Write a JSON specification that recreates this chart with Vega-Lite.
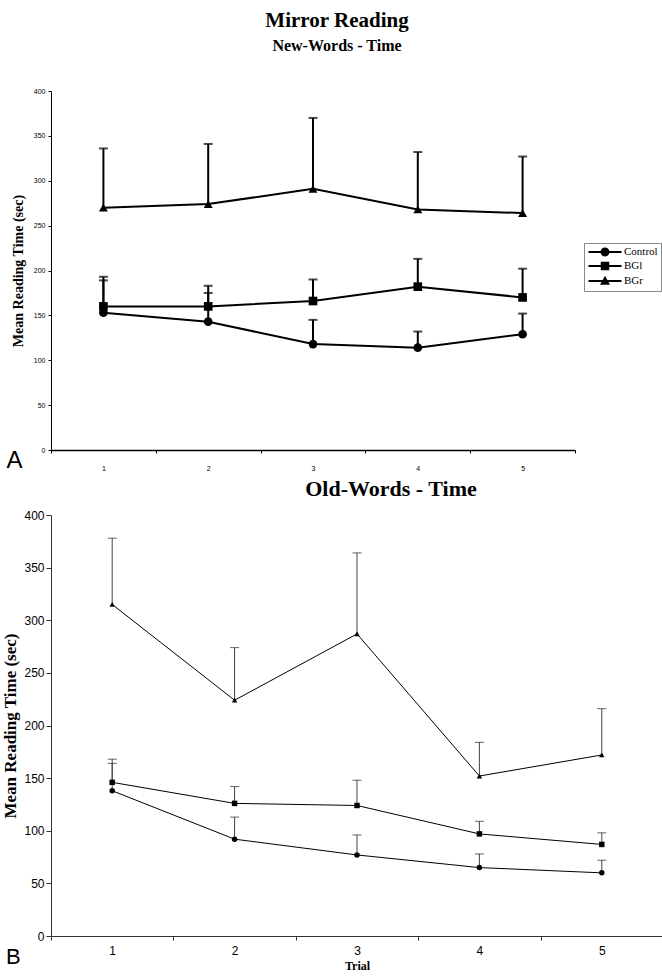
{
  "$schema": "https://vega.github.io/schema/vega-lite/v6.json",
  "background": "white",
  "padding": {"left": 1, "top": 10, "right": 0, "bottom": 0},
  "config": {"view": {"stroke": null}, "font": "Liberation Sans"},
  "datasets": {
    "newwords": [
      {"trial": "1", "group": "Control", "mean": 153, "upper": 189},
      {"trial": "2", "group": "Control", "mean": 143, "upper": 175},
      {"trial": "3", "group": "Control", "mean": 118, "upper": 145},
      {"trial": "4", "group": "Control", "mean": 114, "upper": 132},
      {"trial": "5", "group": "Control", "mean": 129, "upper": 152},
      {"trial": "1", "group": "BGl", "mean": 160, "upper": 193},
      {"trial": "2", "group": "BGl", "mean": 160, "upper": 183},
      {"trial": "3", "group": "BGl", "mean": 166, "upper": 190},
      {"trial": "4", "group": "BGl", "mean": 182, "upper": 213},
      {"trial": "5", "group": "BGl", "mean": 170, "upper": 202},
      {"trial": "1", "group": "BGr", "mean": 270, "upper": 336},
      {"trial": "2", "group": "BGr", "mean": 274, "upper": 341},
      {"trial": "3", "group": "BGr", "mean": 291, "upper": 370},
      {"trial": "4", "group": "BGr", "mean": 268, "upper": 332},
      {"trial": "5", "group": "BGr", "mean": 264, "upper": 327}
    ],
    "oldwords": [
      {"trial": "1", "group": "Control", "mean": 138, "upper": 164},
      {"trial": "2", "group": "Control", "mean": 92, "upper": 113},
      {"trial": "3", "group": "Control", "mean": 77, "upper": 96},
      {"trial": "4", "group": "Control", "mean": 65, "upper": 78},
      {"trial": "5", "group": "Control", "mean": 60, "upper": 72},
      {"trial": "1", "group": "BGl", "mean": 146, "upper": 168},
      {"trial": "2", "group": "BGl", "mean": 126, "upper": 142},
      {"trial": "3", "group": "BGl", "mean": 124, "upper": 148},
      {"trial": "4", "group": "BGl", "mean": 97, "upper": 109},
      {"trial": "5", "group": "BGl", "mean": 87, "upper": 98},
      {"trial": "1", "group": "BGr", "mean": 315, "upper": 378},
      {"trial": "2", "group": "BGr", "mean": 224, "upper": 274},
      {"trial": "3", "group": "BGr", "mean": 287, "upper": 364},
      {"trial": "4", "group": "BGr", "mean": 152, "upper": 184},
      {"trial": "5", "group": "BGr", "mean": 172, "upper": 216}
    ]
  },
  "title": {"text": "B", "orient": "bottom", "anchor": "start", "font": "Liberation Sans", "fontSize": 22, "fontWeight": "normal", "color": "black", "offset": -24, "dx": 4},
  "resolve": {"scale": {"shape": "independent", "x": "independent", "y": "independent"}, "legend": {"shape": "independent"}},
  "spacing": 6,
  "vconcat": [
    {
      "width": 524,
      "height": 359,
      "data": {"name": "newwords"},
      "title": {"text": "Mirror Reading", "subtitle": "New-Words - Time", "font": "Liberation Serif", "fontSize": 21, "fontWeight": "bold", "color": "black", "subtitleFont": "Liberation Serif", "subtitleFontSize": 16, "subtitleFontWeight": "bold", "subtitleColor": "black", "subtitlePadding": 7, "anchor": "middle", "dx": 24, "offset": 33},
      "encoding": {
        "x": {"field": "trial", "type": "ordinal", "scale": {"paddingInner": 0, "paddingOuter": 0},
          "axis": {"title": "A", "titleFont": "Liberation Sans", "titleFontSize": 24, "titleFontWeight": "normal", "titleColor": "black", "titleX": -45, "titleY": 17, "titleAlign": "left", "titleBaseline": "alphabetic", "labelAngle": 0, "labelFontSize": 7, "labelColor": "black", "labelPadding": 11, "tickBand": "extent", "tickSize": 3, "tickColor": "black", "domainColor": "black", "domainWidth": 1.5, "grid": false}}
      },
      "layer": [
        {"mark": {"type": "rule", "color": "black", "strokeWidth": 2},
          "encoding": {"y": {"field": "mean", "type": "quantitative", "scale": {"domain": [0, 400]},
            "axis": {"title": "Mean Reading Time (sec)", "titleFont": "Liberation Serif", "titleFontSize": 14, "titleFontWeight": "bold", "titleColor": "black", "titlePadding": 8, "values": [0, 50, 100, 150, 200, 250, 300, 350, 400], "labelFontSize": 7, "labelColor": "black", "tickSize": 3, "tickColor": "black", "labelPadding": 3, "domainColor": "black", "grid": false}},
            "y2": {"field": "upper"}}},
        {"mark": {"type": "tick", "orient": "horizontal", "size": 9, "thickness": 2, "color": "black"},
          "encoding": {"y": {"field": "upper", "type": "quantitative"}}},
        {"mark": {"type": "line", "color": "black", "strokeWidth": 2},
          "encoding": {"y": {"field": "mean", "type": "quantitative"}, "detail": {"field": "group"}}},
        {"transform": [{"filter": "datum.group === 'Control'"}],
          "mark": {"type": "point", "shape": "circle", "filled": true, "color": "black", "size": 75, "opacity": 1},
          "encoding": {"y": {"field": "mean", "type": "quantitative"}}},
        {"transform": [{"filter": "datum.group === 'BGl'"}],
          "mark": {"type": "point", "shape": "square", "filled": true, "color": "black", "size": 75, "opacity": 1},
          "encoding": {"y": {"field": "mean", "type": "quantitative"}}},
        {"transform": [{"filter": "datum.group === 'BGr'"}],
          "mark": {"type": "point", "shape": "triangle-up", "filled": true, "color": "black", "size": 80, "opacity": 1},
          "encoding": {"y": {"field": "mean", "type": "quantitative"}}},
        {"mark": {"type": "point", "filled": true, "color": "black", "size": 100, "opacity": 0},
          "encoding": {"y": {"field": "mean", "type": "quantitative"},
            "shape": {"field": "group", "type": "nominal", "scale": {"domain": ["Control", "BGl", "BGr"], "range": ["M-3.3,-0.2L3.3,-0.2L3.3,0.2L-3.3,0.2ZM-0.9,0A0.9,0.9,0,1,1,0.9,0A0.9,0.9,0,1,1,-0.9,0Z", "M-3.3,-0.2L3.3,-0.2L3.3,0.2L-3.3,0.2ZM-0.85,-0.85L0.85,-0.85L0.85,0.85L-0.85,0.85Z", "M-3.3,-0.2L3.3,-0.2L3.3,0.2L-3.3,0.2ZM0,-1.05L1,0.75L-1,0.75Z"]},
              "legend": {"title": null, "orient": "none", "legendX": 533, "legendY": 152, "strokeColor": "#888", "padding": 3, "symbolSize": 100, "symbolOpacity": 1, "symbolFillColor": "black", "symbolOffset": 12, "labelOffset": 13, "labelFont": "Liberation Serif", "labelFontSize": 11, "labelColor": "black", "rowPadding": -2}}}}
      ]
    },
    {
      "width": 612,
      "height": 421,
      "data": {"name": "oldwords"},
      "title": {"text": "Old-Words - Time", "font": "Liberation Serif", "fontSize": 22, "fontWeight": "bold", "color": "black", "anchor": "middle", "dx": 34, "offset": 8},
      "encoding": {
        "x": {"field": "trial", "type": "ordinal", "scale": {"paddingInner": 0, "paddingOuter": 0},
          "axis": {"title": "Trial", "titleFont": "Liberation Serif", "titleFontSize": 12, "titleFontWeight": "bold", "titleColor": "black", "titlePadding": 4, "labelAngle": 0, "labelFontSize": 12, "labelColor": "black", "labelPadding": 5, "tickBand": "extent", "tickSize": 4, "tickColor": "#333", "domainColor": "#333", "grid": false}}
      },
      "layer": [
        {"mark": {"type": "rule", "color": "#444", "strokeWidth": 1},
          "encoding": {"y": {"field": "mean", "type": "quantitative", "scale": {"domain": [0, 400]},
            "axis": {"title": "Mean Reading Time (sec)", "titleFont": "Liberation Serif", "titleFontSize": 17, "titleFontWeight": "bold", "titleColor": "black", "titlePadding": 4, "values": [0, 50, 100, 150, 200, 250, 300, 350, 400], "labelFontSize": 12, "labelColor": "black", "tickSize": 5, "tickColor": "#333", "labelPadding": 2, "domainColor": "#333", "grid": false}},
            "y2": {"field": "upper"}}},
        {"mark": {"type": "tick", "orient": "horizontal", "size": 9, "thickness": 1, "color": "#222"},
          "encoding": {"y": {"field": "upper", "type": "quantitative"}}},
        {"mark": {"type": "line", "color": "black", "strokeWidth": 1},
          "encoding": {"y": {"field": "mean", "type": "quantitative"}, "detail": {"field": "group"}}},
        {"mark": {"type": "point", "filled": true, "color": "black", "size": 30, "opacity": 1},
          "encoding": {"y": {"field": "mean", "type": "quantitative"},
            "shape": {"field": "group", "type": "nominal", "scale": {"domain": ["Control", "BGl", "BGr"], "range": ["circle", "square", "triangle-up"]}, "legend": null}}}
      ]
    }
  ]
}
